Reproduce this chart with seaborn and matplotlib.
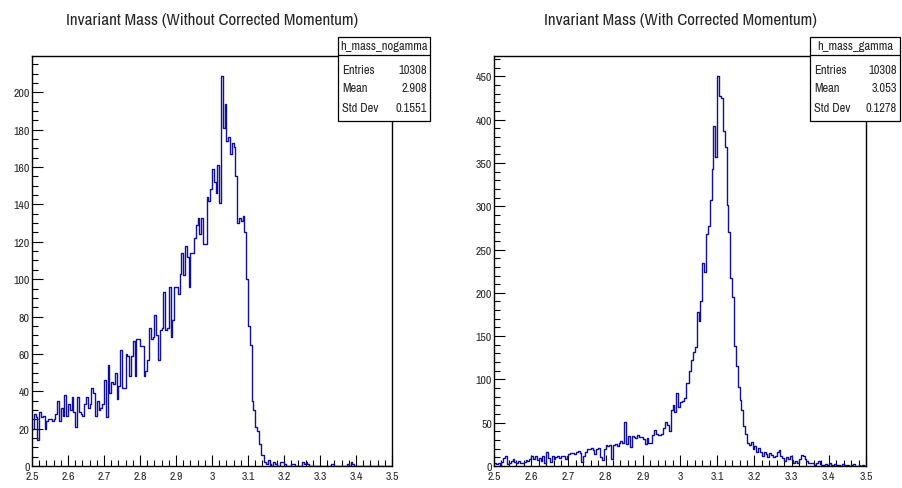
import numpy as np
import pandas as pd
import seaborn as sns
from matplotlib import pyplot as plt
from matplotlib.patches import Rectangle
from matplotlib.lines import Line2D
from matplotlib.ticker import MultipleLocator, FuncFormatter

# binning: 200 bins between 2.5 and 3.5
bin_lo, bin_hi, n_bins = 2.5, 3.5, 200

# h_mass_nogamma counts per bin
counts_nogamma = [
    20, 28, 26, 14, 29, 26, 27, 20, 24, 25,
    25, 24, 25, 28, 35, 24, 31, 27, 38, 27,
    33, 30, 37, 29, 21, 37, 29, 28, 27, 33,
    37, 31, 33, 42, 39, 27, 35, 30, 31, 33,
    46, 26, 54, 39, 45, 44, 50, 36, 43, 62,
    42, 42, 60, 59, 48, 59, 67, 48, 68, 68,
    64, 64, 48, 51, 57, 74, 68, 69, 81, 70,
    57, 73, 74, 93, 73, 74, 96, 69, 78, 96,
    96, 92, 103, 114, 102, 118, 112, 96, 114, 114,
    122, 129, 133, 124, 133, 119, 119, 144, 142, 148,
    159, 152, 146, 161, 141, 209, 181, 194, 174, 176,
    167, 173, 171, 155, 130, 133, 131, 134, 125, 100,
    75, 65, 35, 30, 21, 19, 12, 6, 6, 2,
    1, 3, 1, 0, 2, 1, 0, 0, 2, 2,
    1, 0, 0, 0, 1, 1, 0, 0, 0, 0,
    2, 1, 2, 1, 0, 0, 0, 0, 0, 0,
    0, 0, 0, 0, 0, 0, 1, 1, 0, 0,
    0, 0, 0, 0, 0, 1, 0, 2, 1, 0,
    0, 0, 0, 0, 0, 0, 0, 0, 0, 0,
    0, 0, 0, 0, 0, 0, 0, 0, 0, 0,
]

# h_mass_gamma counts per bin
counts_gamma = [
    4, 2, 3, 1, 5, 9, 12, 2, 4, 6,
    8, 5, 3, 6, 4, 4, 5, 7, 6, 8,
    12, 8, 12, 7, 9, 6, 12, 4, 16, 9,
    5, 11, 8, 10, 12, 9, 11, 12, 8, 11,
    14, 15, 15, 14, 16, 17, 15, 5, 12, 16,
    20, 20, 21, 19, 14, 20, 21, 10, 7, 20,
    24, 23, 24, 8, 24, 25, 23, 27, 29, 26,
    51, 25, 35, 22, 35, 33, 32, 36, 34, 33,
    31, 25, 32, 27, 27, 36, 42, 37, 36, 36,
    37, 44, 51, 47, 41, 65, 70, 62, 84, 68,
    74, 75, 78, 96, 96, 110, 122, 132, 137, 178,
    168, 191, 234, 224, 268, 277, 307, 343, 393, 357,
    451, 427, 425, 387, 369, 301, 270, 217, 195, 139,
    116, 91, 76, 65, 46, 37, 27, 24, 28, 20,
    23, 16, 21, 16, 12, 16, 14, 10, 15, 13,
    10, 12, 16, 18, 12, 9, 6, 10, 8, 11,
    7, 4, 6, 3, 8, 13, 11, 8, 6, 4,
    3, 4, 1, 4, 6, 2, 1, 1, 2, 1,
    3, 1, 0, 2, 1, 1, 0, 2, 1, 0,
    1, 0, 1, 2, 0, 0, 1, 0, 1, 0,
]

titles = ["Invariant Mass (Without Corrected Momentum)",
          "Invariant Mass (With Corrected Momentum)"]
hist_names = ["h_mass_nogamma", "h_mass_gamma"]
stat_labels = ["Entries", "Mean", "Std Dev"]
stat_values = [["10308", "2.908", "0.1551"],
               ["10308", "3.053", "0.1278"]]
y_major = [20, 50]
y_minor = [5, 10]

sns.set_theme(style="white")
plt.rcParams['font.family'] = ['Liberation Sans Narrow', 'Arial Narrow', 'Archivo Narrow',
                               'Roboto Condensed', 'DejaVu Sans']

W, H = 902, 489
fig = plt.figure(figsize=(W / 100, H / 100), dpi=100)
fig.patch.set_facecolor("white")


def fx(x):
    return x / W


def fy(y):
    return 1 - y / H


width = (bin_hi - bin_lo) / n_bins
centers = bin_lo + width * (np.arange(n_bins) + 0.5)

# axes frames in pixels: (left, right)
frames = [(32, 392), (494, 866)]
top_px, bot_px = 57, 467
boxes = [(338, 430), (810, 900)]

for k, counts in enumerate([counts_nogamma, counts_gamma]):
    df = pd.DataFrame({"mass": centers, "count": counts})
    l, r = frames[k]
    ax = fig.add_axes([fx(l), fy(bot_px), (r - l) / W, (bot_px - top_px) / H])
    sns.histplot(data=df, x="mass", weights="count", bins=n_bins, binrange=(bin_lo, bin_hi),
                 element="step", fill=False, color="#10109c", linewidth=1.0, ax=ax)
    ax.set_xlim(bin_lo, bin_hi)
    ax.set_ylim(0, max(counts) * 1.05)
    ax.set_xlabel("")
    ax.set_ylabel("")
    ax.xaxis.set_major_locator(MultipleLocator(0.1))
    ax.xaxis.set_minor_locator(MultipleLocator(0.02))
    ax.yaxis.set_major_locator(MultipleLocator(y_major[k]))
    ax.yaxis.set_minor_locator(MultipleLocator(y_minor[k]))
    ax.xaxis.set_major_formatter(FuncFormatter(lambda v, p: "%g" % round(v, 3)))
    ax.yaxis.set_major_formatter(FuncFormatter(lambda v, p: "%g" % v))
    ax.tick_params(which="both", direction="in", top=False, right=False,
                   bottom=True, left=True, color="black", width=0.8, labelsize=8.5)
    ax.tick_params(which="major", length=8)
    ax.tick_params(which="minor", length=4)
    ax.tick_params(axis="y", pad=1.5)
    ax.tick_params(axis="x", pad=3.5)
    for s in ax.spines.values():
        s.set_color("black")
        s.set_linewidth(1.0)
    ax.grid(False)

    # title
    fig.text(fx((l + r) / 2), fy(21), titles[k], ha="center", va="center", fontsize=12.3)

    # stats box
    bl, br = boxes[k]
    bt, bb = 38, 122
    fig.add_artist(Rectangle((fx(bl), fy(bb)), (br - bl) / W, (bb - bt) / H,
                             transform=fig.transFigure, facecolor="white",
                             edgecolor="black", linewidth=0.9, zorder=5))
    fig.add_artist(Line2D([fx(bl), fx(br)], [fy(56), fy(56)], transform=fig.transFigure,
                          color="black", linewidth=0.9, zorder=6))
    fig.text(fx((bl + br) / 2), fy(47), hist_names[k], ha="center", va="center",
             fontsize=9, zorder=7)
    for j, (lab, val) in enumerate(zip(stat_labels, stat_values[k])):
        yy = 70 + j * 19
        fig.text(fx(bl + 4), fy(yy), lab, ha="left", va="center", fontsize=9, zorder=7)
        fig.text(fx(br - 3), fy(yy), val, ha="right", va="center", fontsize=9, zorder=7)

fig.savefig("out.png", dpi=100)
